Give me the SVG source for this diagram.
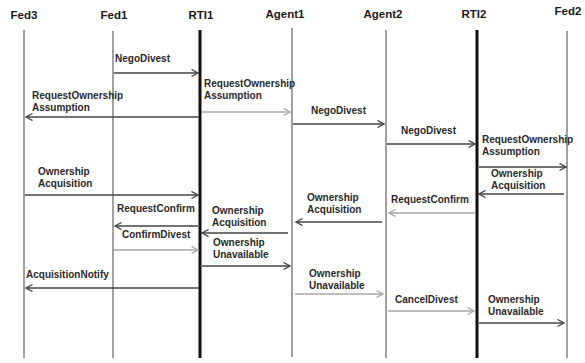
<svg xmlns="http://www.w3.org/2000/svg" width="585" height="363" viewBox="0 0 585 363">
  <style>
    .hdr { font-family: "Liberation Sans", Arial, sans-serif; font-weight: bold; font-size: 11.5px; fill: #1a1a1a; text-anchor: middle; }
    .lbl { font-family: "Liberation Sans", Arial, sans-serif; font-weight: bold; font-size: 10px; fill: #2a2a2a; }
    .life { stroke: #8a8a8a; stroke-width: 1.6; }
    .rti { stroke: #111; stroke-width: 3; }
    .dark { stroke: #454545; stroke-width: 1.6; fill: none; marker-end: url(#hd); }
    .light { stroke: #a8a8a8; stroke-width: 1.6; fill: none; marker-end: url(#hl); }
  </style>
  <defs>
    <marker id="hd" markerUnits="userSpaceOnUse" markerWidth="10" markerHeight="10" refX="7" refY="4" orient="auto">
      <path d="M0.5,0.5 L7,4 L0.5,7.5" fill="none" stroke="#454545" stroke-width="1.4"/>
    </marker>
    <marker id="hl" markerUnits="userSpaceOnUse" markerWidth="10" markerHeight="10" refX="7" refY="4" orient="auto">
      <path d="M0.5,0.5 L7,4 L0.5,7.5" fill="none" stroke="#a8a8a8" stroke-width="1.4"/>
    </marker>
  </defs>
  <rect width="585" height="363" fill="#fff"/>

  <!-- participants with their lifelines -->
  <g id="fed3"><text class="hdr" x="24" y="19">Fed3</text><line class="life" x1="24" y1="30" x2="24" y2="358"/></g>
  <g id="fed1"><text class="hdr" x="114" y="19">Fed1</text><line class="life" x1="113" y1="31" x2="113" y2="358"/></g>
  <g id="rti1"><text class="hdr" x="201" y="19">RTI1</text><line class="rti" x1="200" y1="30" x2="200" y2="358"/></g>
  <g id="agent1"><text class="hdr" x="285" y="18">Agent1</text><line class="life" x1="292" y1="28" x2="292" y2="357"/></g>
  <g id="agent2"><text class="hdr" x="383" y="18">Agent2</text><line class="life" x1="386" y1="30" x2="386" y2="358"/></g>
  <g id="rti2"><text class="hdr" x="474" y="18">RTI2</text><line class="rti" x1="477" y1="30" x2="477" y2="358"/></g>
  <g id="fed2"><text class="hdr" x="568" y="15">Fed2</text><line class="life" x1="567" y1="31" x2="567" y2="358"/></g>

  <!-- messages -->
  <g id="connectors">
    <line class="dark" x1="114" y1="73" x2="198" y2="73"/>
    <line class="dark" x1="199" y1="117" x2="26" y2="117"/>
    <line class="light" x1="202" y1="112" x2="290" y2="112"/>
    <line class="dark" x1="293" y1="124" x2="384" y2="124"/>
    <line class="dark" x1="387" y1="144" x2="475" y2="144"/>
    <line class="dark" x1="479" y1="167" x2="566" y2="167"/>
    <line class="dark" x1="25" y1="195" x2="198" y2="195"/>
    <line class="dark" x1="564" y1="194" x2="479" y2="194"/>
    <line class="light" x1="475" y1="213" x2="389" y2="213"/>
    <line class="dark" x1="382" y1="222" x2="296" y2="222"/>
    <line class="dark" x1="198" y1="226" x2="115" y2="226"/>
    <line class="dark" x1="288" y1="233" x2="202" y2="233"/>
    <line class="light" x1="114" y1="250" x2="198" y2="250"/>
    <line class="dark" x1="202" y1="266" x2="290" y2="266"/>
    <line class="dark" x1="199" y1="288" x2="26" y2="288"/>
    <line class="light" x1="295" y1="294" x2="383" y2="294"/>
    <line class="light" x1="388" y1="311" x2="474" y2="311"/>
    <line class="dark" x1="479" y1="323" x2="564" y2="323"/>
  </g>

  <!-- message labels -->
  <g id="labels">
    <text class="lbl" x="115" y="62">NegoDivest</text>
    <text class="lbl" x="32" y="99">RequestOwnership</text>
    <text class="lbl" x="32" y="111">Assumption</text>
    <text class="lbl" x="204" y="87">RequestOwnership</text>
    <text class="lbl" x="204" y="99">Assumption</text>
    <text class="lbl" x="311" y="114">NegoDivest</text>
    <text class="lbl" x="401" y="134">NegoDivest</text>
    <text class="lbl" x="482" y="143">RequestOwnership</text>
    <text class="lbl" x="482" y="155">Assumption</text>
    <text class="lbl" x="491" y="177">Ownership</text>
    <text class="lbl" x="491" y="189">Acquisition</text>
    <text class="lbl" x="38" y="175">Ownership</text>
    <text class="lbl" x="38" y="187">Acquisition</text>
    <text class="lbl" x="391" y="203">RequestConfirm</text>
    <text class="lbl" x="307" y="201">Ownership</text>
    <text class="lbl" x="307" y="213">Acquisition</text>
    <text class="lbl" x="117" y="212">RequestConfirm</text>
    <text class="lbl" x="212" y="214">Ownership</text>
    <text class="lbl" x="212" y="226">Acquisition</text>
    <text class="lbl" x="122" y="238">ConfirmDivest</text>
    <text class="lbl" x="213" y="246">Ownership</text>
    <text class="lbl" x="213" y="258">Unavailable</text>
    <text class="lbl" x="26" y="278">AcquisitionNotify</text>
    <text class="lbl" x="309" y="277">Ownership</text>
    <text class="lbl" x="309" y="289">Unavailable</text>
    <text class="lbl" x="395" y="303">CancelDivest</text>
    <text class="lbl" x="488" y="303">Ownership</text>
    <text class="lbl" x="488" y="315">Unavailable</text>
  </g>
</svg>
